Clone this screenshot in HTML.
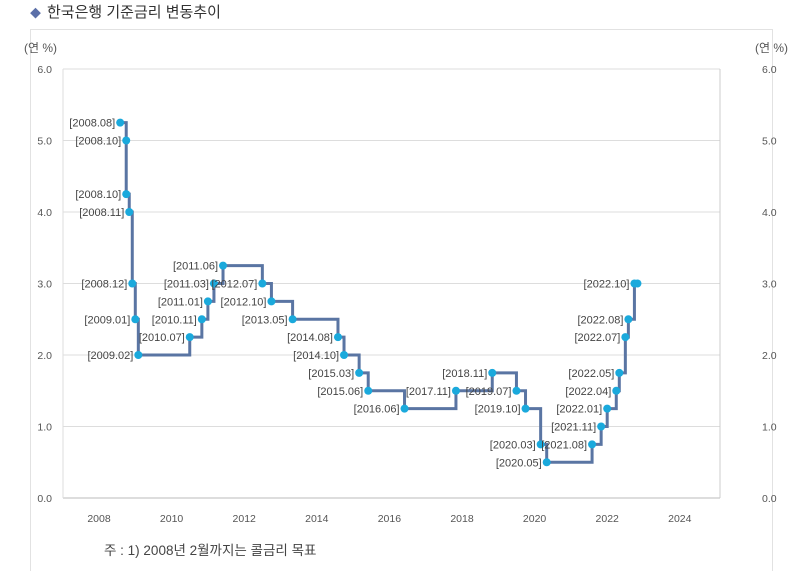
<!DOCTYPE html>
<html><head><meta charset="utf-8"><style>
body{margin:0;width:788px;height:571px;background:#fff;overflow:hidden;font-family:"Liberation Sans","Noto Sans CJK KR",sans-serif;}
#wrap{position:relative;width:788px;height:571px;overflow:hidden;}
.title{position:absolute;left:30px;top:1px;font-size:15px;color:#333;}
.title span{color:#5b6fa8;font-size:11px;margin-right:6px;}
.frame{position:absolute;left:30px;top:29px;width:741px;height:560px;border:1px solid #e2e2e2;}
.note{position:absolute;left:104px;top:539px;font-size:13.5px;color:#444;}
</style></head><body><div id="wrap">
<div class="title"><span>◆</span>한국은행 기준금리 변동추이</div>
<div class="frame"></div>
<svg id="c" width="788" height="571" style="position:absolute;left:0;top:0"></svg>
<div class="note">주 : 1) 2008년 2월까지는 콜금리 목표</div>
</div>
<script>
const dates=["2008.08","2008.10","2008.10","2008.11","2008.12","2009.01","2009.02","2010.07","2010.11","2011.01","2011.03","2011.06","2012.07","2012.10","2013.05","2014.08","2014.10","2015.03","2015.06","2016.06","2017.11","2018.11","2019.07","2019.10","2020.03","2020.05","2021.08","2021.11","2022.01","2022.04","2022.05","2022.07","2022.08","2022.10","2022.11"];
const rates=[5.25,5.0,4.25,4.0,3.0,2.5,2.0,2.25,2.5,2.75,3.0,3.25,3.0,2.75,2.5,2.25,2.0,1.75,1.5,1.25,1.5,1.75,1.5,1.25,0.75,0.5,0.75,1.0,1.25,1.5,1.75,2.25,2.5,3.0,3.0];
const showLabel=[1,1,1,1,1,1,1,1,1,1,1,1,1,1,1,1,1,1,1,1,1,1,1,1,1,1,1,1,1,1,1,1,1,1,0];
const xTicks=[2008,2010,2012,2014,2016,2018,2020,2022,2024];
const yTicks=[0,1,2,3,4,5,6];
const NS="http://www.w3.org/2000/svg",svg=document.getElementById('c');
const X0=63,X1=720,Y0=498,Y1=69;
function xs(t){return 99+(t-2008)*36.3;}
function ys(v){return Y0-(v/6)*(Y0-Y1);}
function tnum(d){const [y,m]=d.split('.').map(Number);return y+(m-1)/12;}
function el(tag,a){const e=document.createElementNS(NS,tag);for(const k in a)e.setAttribute(k,a[k]);svg.appendChild(e);return e;}
yTicks.forEach(v=>{
 const g=el('line',{x1:X0,x2:X1,y1:ys(v),y2:ys(v),stroke:v==0?'#bbb':'#ddd','stroke-width':1});
 
 const t=el('text',{x:52,y:ys(v)+4,'text-anchor':'end','font-size':10.5,fill:'#555'});t.textContent=v.toFixed(1);
 
 const t2=el('text',{x:762,y:ys(v)+4,'font-size':10.5,fill:'#555'});t2.textContent=v.toFixed(1);
 
});
const vl=el('line',{x1:X0,x2:X0,y1:Y1,y2:Y0,stroke:'#ddd'});
const vr=el('line',{x1:X1,x2:X1,y1:Y1,y2:Y0,stroke:'#ccc'});
xTicks.forEach(y=>{
 const t=el('text',{x:xs(y),y:522,'text-anchor':'middle','font-size':10.5,fill:'#555'});t.textContent=y;
 
});
const a1=el('text',{x:24,y:52,'font-size':12,fill:'#555'});a1.textContent='(연 %)';
const a2=el('text',{x:755,y:52,'font-size':12,fill:'#555'});a2.textContent='(연 %)';
let d='';
dates.forEach((dt,i)=>{const x=xs(tnum(dt)),y=ys(rates[i]);
 if(i==0)d+=`M${x},${y}`;else d+=`H${x}V${y}`;});
const p=el('path',{d:d,fill:'none',stroke:'#5a75a3','stroke-width':3});

dates.forEach((dt,i)=>{const x=xs(tnum(dt)),y=ys(rates[i]);
 const c=el('circle',{cx:x,cy:y,r:4,fill:'#1aa9dc'});
 
 if(showLabel[i]){const t=el('text',{x:x-5,y:y+4,'text-anchor':'end','font-size':11,fill:'#444'});t.textContent='['+dt+']';
 }
});
</script></body></html>
